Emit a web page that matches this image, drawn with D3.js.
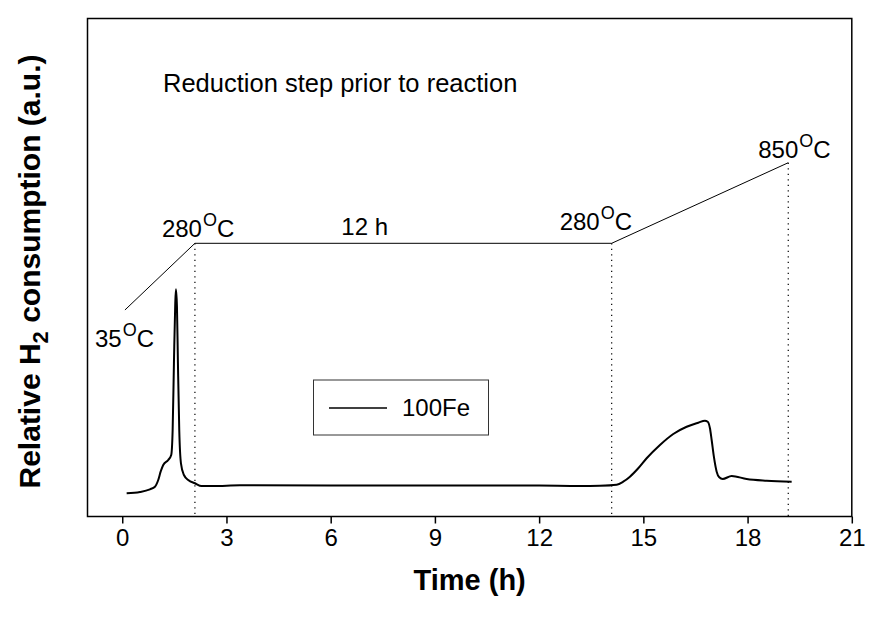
<!DOCTYPE html>
<html><head><meta charset="utf-8">
<script src="https://cdn.jsdelivr.net/npm/d3@7"></script>
<style>
html,body{margin:0;padding:0;background:#fff;}
svg{display:block;font-family:"Liberation Sans",Arial,Helvetica,sans-serif;}
</style></head>
<body>
<svg id="chart" width="869" height="619"></svg>
<script>
// ---- data ----
const timeH = [0.127,0.510,0.797,0.941,1.036,1.105,1.180,1.324,1.410,1.451,1.488,1.526,1.546,1.575,1.603,1.641,1.690,1.776,1.900,2.093,2.286,2.619,3.388,6,9,12,13.175,13.75,14.231,14.42,14.614,14.853,15.095,15.478,15.861,16.246,16.580,16.773,16.851,16.917,16.966,17.03,17.11,17.185,17.283,17.542,17.973,18.549,19.269];
const h2Signal = [4.66,4.92,5.46,5.98,7.33,9.00,10.34,11.35,12.35,17.37,30.76,42.81,45.62,42.13,30.76,17.37,10.68,8.33,7.33,6.67,6.12,6.12,6.27,6.25,6.25,6.2,6.12,6.18,6.39,6.99,7.99,9.68,11.69,14.36,16.57,18.03,18.84,19.24,19.04,17.71,15.36,12.01,9.00,7.87,7.53,8.13,7.53,7.19,6.99];
// temperature programme (schematic, drawn in the same plot units)
const profileTime = [0.078, 2.092, 14.088, 19.171];
const profileLevel = [41.47, 54.86, 54.86, 71.04];
const profileTemps = ["35", "280", "280", "850"];
const holdLabel = "12 h";
const xTicks = [0,3,6,9,12,15,18,21];
const seriesName = "100Fe";
const noteText = "Reduction step prior to reaction";

// ---- layout ----
const svg = d3.select("#chart");
const x = d3.scaleLinear().domain([-1, 21]).range([87.5, 851.8]);
const y = d3.scaleLinear().domain([0, 100]).range([516.5, 18.5]);
const FONT = 24;

// frame
svg.append("rect").attr("x", x(-1)).attr("y", y(100))
  .attr("width", x(21)-x(-1)).attr("height", y(0)-y(100))
  .attr("fill","none").attr("stroke","#000").attr("stroke-width",1.5);

// x axis
const xAxis = d3.axisBottom(x).tickValues(xTicks).tickSize(7).tickPadding(5).tickFormat(d3.format("d"));
const gx = svg.append("g").attr("transform",`translate(0,${y(0)})`).call(xAxis);
gx.select(".domain").remove();
gx.selectAll(".tick line").attr("stroke","#000").attr("stroke-width",1.5);
gx.selectAll(".tick text").attr("font-size",FONT).attr("fill","#000")
  .attr("font-family","'Liberation Sans',Arial,sans-serif");

// axis titles
svg.append("text").attr("x",(x(-1)+x(21))/2).attr("y",590).attr("text-anchor","middle")
  .attr("font-size",29).attr("font-weight","bold").text("Time (h)");
const yt = svg.append("text").attr("transform",`translate(40,${(y(0)+y(100))/2 + 4}) rotate(-90)`)
  .attr("text-anchor","middle").attr("font-size",30).attr("font-weight","bold");
yt.append("tspan").text("Relative H");
yt.append("tspan").attr("font-size",22).attr("dy",8).text("2");
yt.append("tspan").attr("dy",-8).text(" consumption (a.u.)");

// dotted verticals
const verts = [1,2,3];
svg.selectAll("line.vd").data(verts).enter().append("line")
  .attr("x1",i=>x(profileTime[i])).attr("x2",i=>x(profileTime[i]))
  .attr("y1",i=>y(profileLevel[i])).attr("y2",y(0))
  .attr("stroke","#000").attr("stroke-width",1.2).attr("stroke-dasharray","1.3,4.2");

// temperature profile
const prof = profileTime.map((t,i)=>[t, profileLevel[i]]);
svg.append("path").datum(prof)
  .attr("d", d3.line().x(d=>x(d[0])).y(d=>y(d[1])))
  .attr("fill","none").attr("stroke","#000").attr("stroke-width",1);

// data curve
const pts = timeH.map((t,i)=>[t, h2Signal[i]]);
svg.append("path").datum(pts)
  .attr("d", d3.line().x(d=>x(d[0])).y(d=>y(d[1])).curve(d3.curveMonotoneX))
  .attr("fill","none").attr("stroke","#000").attr("stroke-width",2);

// temperature labels
function tempLabel(px, py, val){
  const t = svg.append("text").attr("x",px).attr("y",py).attr("font-size",FONT);
  t.append("tspan").text(val);
  t.append("tspan").attr("font-size",18).attr("dy",-11).attr("dx",1).text("O");
  t.append("tspan").attr("dy",11).text("C");
}
tempLabel(x(profileTime[0]) - 30, y(profileLevel[0]) + 37, profileTemps[0]);
tempLabel(x(profileTime[1]) - 33, y(profileLevel[1]) - 6, profileTemps[1]);
tempLabel(x(profileTime[2]) - 52, y(profileLevel[2]) - 13, profileTemps[2]);
tempLabel(x(profileTime[3]) - 30, y(profileLevel[3]) - 5, profileTemps[3]);
svg.append("text").attr("x",x((profileTime[1]+profileTime[2])/2)-62).attr("y",y(profileLevel[1])-8)
  .attr("font-size",FONT).text(holdLabel);

// note
svg.append("text").attr("x",163).attr("y",92).attr("font-size",25.5).text(noteText);

// legend
const lg = svg.append("g");
lg.append("rect").attr("x",313.5).attr("y",380).attr("width",175).attr("height",55)
  .attr("fill","#fff").attr("stroke","#333").attr("stroke-width",1);
lg.append("line").attr("x1",329).attr("x2",387).attr("y1",408).attr("y2",408)
  .attr("stroke","#000").attr("stroke-width",1.5);
lg.append("text").attr("x",402).attr("y",416).attr("font-size",FONT).text(seriesName);
</script>
</body></html>
